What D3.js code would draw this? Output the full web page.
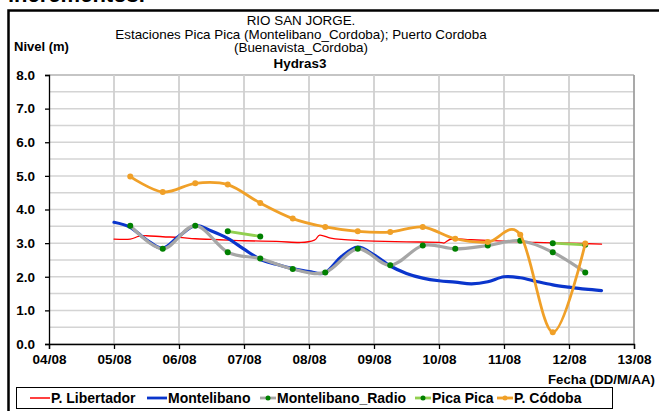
<!DOCTYPE html>
<html>
<head>
<meta charset="utf-8">
<script src="https://cdn.jsdelivr.net/npm/d3@7/dist/d3.min.js"></script>
<style>
  html, body { margin: 0; padding: 0; background: #fff; }
  svg { display: block; font-family: "Liberation Sans", Arial, sans-serif; }
</style>
</head>
<body>
<svg id="chart" width="659" height="411"></svg>
<script>
// ---- Series data (dates DD/MM/YYYY HH:MM, levels in metres) ----
const libertadorTimes = [
  "05/08/2008 00:00", "05/08/2008 06:00", "05/08/2008 09:00", "05/08/2008 12:00", "05/08/2008 18:00",
  "06/08/2008 00:00", "06/08/2008 06:00", "06/08/2008 12:00", "06/08/2008 18:00",
  "07/08/2008 00:00", "07/08/2008 12:00", "07/08/2008 21:00",
  "08/08/2008 02:00", "08/08/2008 04:00", "08/08/2008 08:00", "08/08/2008 12:00", "08/08/2008 18:00",
  "09/08/2008 00:00", "09/08/2008 12:00",
  "10/08/2008 00:00", "10/08/2008 02:00", "10/08/2008 05:00", "10/08/2008 12:00",
  "11/08/2008 00:00", "11/08/2008 12:00", "12/08/2008 00:00", "12/08/2008 12:00"
];
const libertadorLevels = [
  3.12, 3.12, 3.20, 3.22, 3.19,
  3.17, 3.13, 3.11, 3.09,
  3.07, 3.05, 3.02,
  3.09, 3.24, 3.15, 3.11, 3.08,
  3.06, 3.04,
  3.02, 3.01, 3.13, 3.10,
  3.06, 3.02, 3.00, 2.97
];

const montelibanoTimes = [
  "05/08/2008 00:00", "05/08/2008 06:00", "05/08/2008 12:00", "05/08/2008 18:00",
  "06/08/2008 00:00", "06/08/2008 06:00", "06/08/2008 12:00", "06/08/2008 18:00",
  "07/08/2008 00:00", "07/08/2008 06:00", "07/08/2008 12:00", "07/08/2008 18:00",
  "08/08/2008 00:00", "08/08/2008 06:00", "08/08/2008 12:00", "08/08/2008 18:00",
  "09/08/2008 00:00", "09/08/2008 06:00", "09/08/2008 12:00", "09/08/2008 18:00",
  "10/08/2008 00:00", "10/08/2008 06:00", "10/08/2008 12:00", "10/08/2008 18:00",
  "11/08/2008 00:00", "11/08/2008 06:00", "11/08/2008 12:00", "11/08/2008 18:00",
  "12/08/2008 00:00", "12/08/2008 06:00", "12/08/2008 12:00"
];
const montelibanoLevels = [
  3.62, 3.47, 3.10, 2.85,
  3.21, 3.52, 3.36, 3.14,
  2.82, 2.52, 2.37, 2.24,
  2.15, 2.12, 2.60, 2.88,
  2.65, 2.32, 2.10, 1.96,
  1.88, 1.84, 1.79, 1.85,
  2.00, 1.97, 1.86, 1.76,
  1.69, 1.63, 1.59
];

// Twice-daily readings (06:00 and 18:00)
const readingTimes = [
  "05/08/2008 06:00", "05/08/2008 18:00", "06/08/2008 06:00", "06/08/2008 18:00",
  "07/08/2008 06:00", "07/08/2008 18:00", "08/08/2008 06:00", "08/08/2008 18:00",
  "09/08/2008 06:00", "09/08/2008 18:00", "10/08/2008 06:00", "10/08/2008 18:00",
  "11/08/2008 06:00", "11/08/2008 18:00", "12/08/2008 06:00"
];
const radioLevels   = [3.52, 2.83, 3.52, 2.73, 2.54, 2.23, 2.13, 2.83, 2.34, 2.93, 2.83, 2.93, 3.07, 2.73, 2.13];
const picaPicaLevels = [null, null, null, 3.35, 3.20, null, null, null, null, null, null, null, null, 3.00, 2.95];
const cordobaLevels = [4.98, 4.52, 4.78, 4.74, 4.19, 3.73, 3.48, 3.35, 3.33, 3.48, 3.13, 3.03, 3.25, 0.35, 2.99];

const xTickLabels = ["04/08", "05/08", "06/08", "07/08", "08/08", "09/08", "10/08", "11/08", "12/08", "13/08"];
const yTicks = [0, 1, 2, 3, 4, 5, 6, 7, 8];
const yGrid = d3.range(0, 8.01, 0.5);

const titleLines = ["RIO SAN JORGE.", "Estaciones Pica Pica (Montelibano_Cordoba); Puerto Cordoba", "(Buenavista_Cordoba)"];
const subTitle = "Hydras3";
const legendNames = ["P. Libertador", "Montelibano", "Montelibano_Radio", "Pica Pica", "P. Códoba"];

// ---- Layout ----
const parse = d3.timeParse("%d/%m/%Y %H:%M");
const plot = { left: 49, right: 634, top: 75, bottom: 344 };

const x = d3.scaleTime()
  .domain([parse("04/08/2008 00:00"), parse("13/08/2008 00:00")])
  .range([plot.left, plot.right]);
const y = d3.scaleLinear().domain([0, 8]).range([plot.bottom, plot.top]);

const svg = d3.select("#chart");

// Heading text partly above the frame
svg.append("text").attr("x", 8).attr("y", 2)
  .attr("font-size", 22).attr("font-weight", "bold").attr("fill", "#000")
  .text("incrementos.");

// Outer frame
svg.append("rect").attr("x", 8.5).attr("y", 10.5).attr("width", 700).attr("height", 500)
  .attr("fill", "none").attr("stroke", "#000").attr("stroke-width", 2.5);

// Title
const title = svg.append("g").attr("text-anchor", "middle").attr("fill", "#000");
titleLines.forEach((t, i) => {
  title.append("text").attr("x", 301).attr("y", 25 + i * 13.5).attr("font-size", 13.4).text(t);
});
title.append("text").attr("x", 300).attr("y", 68).attr("font-size", 13.4).attr("font-weight", "bold").text(subTitle);

svg.append("text").attr("x", 14).attr("y", 51).attr("font-size", 13).attr("font-weight", "bold").text("Nivel (m)");

// Grid
const grid = svg.append("g");
grid.selectAll("line.h").data(yGrid).join("line")
  .attr("x1", plot.left).attr("x2", plot.right)
  .attr("y1", d => y(d)).attr("y2", d => y(d))
  .attr("stroke", d => d === 8 ? "#8c8c8c" : "#d4d4d4")
  .attr("stroke-width", d => d === 8 ? 1.2 : 1.5);
const dayTicks = xTickLabels.map(l => parse(l + "/2008 00:00"));
grid.selectAll("line.v").data(dayTicks.slice(1, -1)).join("line")
  .attr("x1", d => x(d)).attr("x2", d => x(d))
  .attr("y1", plot.top).attr("y2", plot.bottom)
  .attr("stroke", "#d0d0d0").attr("stroke-width", 1.8);
grid.append("line").attr("x1", plot.right).attr("x2", plot.right)
  .attr("y1", plot.top).attr("y2", plot.bottom)
  .attr("stroke", "#a0a0a0").attr("stroke-width", 1.8);

// Axes
const yAxis = svg.append("g").attr("transform", `translate(${plot.left},0)`)
  .call(d3.axisLeft(y).tickValues(yTicks).tickFormat(d3.format(".1f")).tickSize(4).tickPadding(10));
const xAxis = svg.append("g").attr("transform", `translate(0,${plot.bottom})`)
  .call(d3.axisBottom(x).tickValues(dayTicks).tickFormat(d3.timeFormat("%d/%m")).tickSize(5).tickPadding(5));
[yAxis, xAxis].forEach(a => {
  a.select(".domain").attr("stroke", "#000").attr("stroke-width", 1.3);
  a.selectAll(".tick line").attr("stroke", "#000").attr("stroke-width", 1.3);
  a.selectAll(".tick text").attr("fill", "#000").attr("font-size", 13.5).attr("font-weight", "bold")
    .attr("font-family", "Liberation Sans, Arial, sans-serif");
});

svg.append("text").attr("x", 655).attr("y", 384).attr("text-anchor", "end")
  .attr("font-size", 13.2).attr("font-weight", "bold").text("Fecha (DD/M/AA)");

// Series
const toPoints = (times, vals) => times.map((t, i) => ({ t: parse(t), v: vals[i] }));
const line = d3.line()
  .defined(d => d.v !== null)
  .x(d => x(d.t)).y(d => y(d.v))
  .curve(d3.curveCardinal.tension(0));

const series = [
  { name: legendNames[0], pts: toPoints(libertadorTimes, libertadorLevels), color: "#ff0000", width: 1.3, marker: null },
  { name: legendNames[1], pts: toPoints(montelibanoTimes, montelibanoLevels), color: "#0a35cc", width: 3.2, marker: null },
  { name: legendNames[2], pts: toPoints(readingTimes, radioLevels), color: "#a6a6a6", width: 3.2, marker: "#008000" },
  { name: legendNames[3], pts: toPoints(readingTimes, picaPicaLevels), color: "#92d050", width: 2.8, marker: "#008000" },
  { name: legendNames[4], pts: toPoints(readingTimes, cordobaLevels), color: "#f0a028", width: 2.8, marker: "#f0a028" }
];

const marks = svg.append("g");
series.forEach(s => {
  marks.append("path").datum(s.pts).attr("d", line)
    .attr("fill", "none").attr("stroke", s.color).attr("stroke-width", s.width)
    .attr("stroke-linejoin", "round").attr("stroke-linecap", "round");
  if (s.marker) {
    marks.append("g").selectAll("circle").data(s.pts.filter(d => d.v !== null)).join("circle")
      .attr("cx", d => x(d.t)).attr("cy", d => y(d.v)).attr("r", 3)
      .attr("fill", s.marker);
  }
});

// Legend
const legend = svg.append("g");
legend.append("rect").attr("x", 16.5).attr("y", 387.5).attr("width", 596).attr("height", 21)
  .attr("fill", "#fff").attr("stroke", "#000").attr("stroke-width", 1);
const legendPos = [30, 147, 260, 415, 497];
series.forEach((s, i) => {
  const lx = legendPos[i];
  const g = legend.append("g").attr("transform", `translate(${lx},398)`);
  g.append("line").attr("x1", 0).attr("x2", i >= 2 ? 16 : 20).attr("y1", 0).attr("y2", 0)
    .attr("stroke", s.color).attr("stroke-width", s.width === 1.3 ? 1.5 : 2.8);
  if (s.marker) g.append("circle").attr("cx", 8).attr("cy", 0).attr("r", 2.5).attr("fill", s.marker);
  g.append("text").attr("x", i >= 2 ? 17 : 21).attr("y", 4.8)
    .attr("font-size", 14).attr("font-weight", "bold").text(s.name);
});
</script>
</body>
</html>
